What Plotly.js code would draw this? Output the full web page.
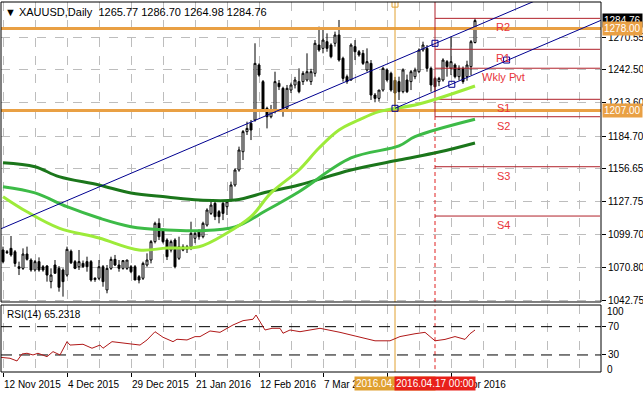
<!DOCTYPE html>
<html><head><meta charset="utf-8">
<script src="https://cdn.plot.ly/plotly-3.0.1.min.js"></script>
<style>html,body{margin:0;padding:0;background:#fff}#chart{width:643px;height:397px}</style>
</head><body><div id="chart"></div>
<script>
// ---- data (bar index 0 = 12 Nov 2015, daily bars) ----
const openP = [1086.1,1084.6,1087.5,1084.6,1071.6,1070.2,1082.6,1077.4,1068.8,1076.0,
1071.6,1072.2,1058.7,1073.1,1070.2,1068.8,1064.4,1085.0,1076.0,1071.6,
1074.5,1076.0,1076.0,1060.5,1061.6,1071.6,1051.5,1070.2,1078.0,1073.1,
1070.2,1070.2,1071.6,1071.6,1063.0,1061.6,1073.1,1077.4,1093.3,1109.2,
1103.4,1094.7,1086.0,1094.7,1078.9,1088.9,1086.7,1088.9,1096.2,1101.9,
1097.6,1107.7,1117.8,1126.5,1119.3,1126.5,1123.6,1129.4,1142.4,1155.4,
1171.2,1188.6,1195.8,1198.7,1246.3,1231.9,1208.8,1201.5,1205.9,1230.4,
1226.1,1208.8,1224.6,1229.0,1231.9,1231.9,1233.3,1231.9,1239.1,1263.6,
1260.7,1266.5,1263.6,1265.1,1272.3,1252.1,1236.2,1233.3,1262.2,1257.8,
1256.4,1242.0,1247.7,1220.3,1217.4,1224.6,1242.0,1239.1,1233.0,1231.9,
1223.2,1233.3,1231.9,1236.2,1240.5,1259.3,1260.7,1243.4,1234.7,1231.9,
1233.3,1249.2,1243.4,1246.3,1236.2,1243.4,1236.2,1244.9,1265.77];
const highP = [1089.0,1086.1,1098.2,1086.1,1076.0,1087.5,1089.0,1078.9,1077.4,1079.7,
1073.1,1073.1,1070.2,1077.4,1072.2,1070.2,1089.0,1086.5,1077.4,1086.1,
1077.0,1080.3,1077.4,1062.5,1077.4,1073.1,1073.1,1080.3,1081.8,1077.4,
1077.4,1077.4,1073.1,1073.1,1064.4,1076.0,1083.2,1094.7,1110.6,1113.5,
1104.8,1096.2,1095.0,1096.2,1097.6,1091.0,1090.5,1110.6,1103.0,1104.0,
1110.6,1122.2,1127.9,1127.9,1120.7,1127.9,1129.4,1145.3,1156.8,1175.6,
1190.0,1197.2,1198.7,1265.1,1247.7,1233.3,1210.2,1211.7,1240.5,1233.3,
1227.5,1229.0,1231.0,1236.0,1243.4,1241.0,1256.4,1243.0,1267.9,1279.5,
1276.6,1273.7,1265.1,1275.2,1285.3,1253.5,1238.0,1265.1,1267.9,1259.3,
1259.3,1260.7,1250.6,1222.0,1224.6,1244.9,1243.4,1240.5,1236.0,1236.2,
1243.4,1238.0,1242.0,1244.0,1260.7,1266.5,1263.6,1244.9,1236.2,1236.0,
1252.1,1250.6,1270.8,1247.7,1246.0,1245.0,1250.0,1267.9,1286.70];
const lowP = [1074.5,1082.6,1080.3,1071.6,1064.4,1068.8,1076.9,1067.3,1067.3,1067.3,
1067.3,1058.7,1052.9,1065.9,1050.0,1045.7,1063.0,1074.0,1069.5,1068.8,
1070.5,1067.3,1058.7,1058.5,1060.1,1054.3,1048.6,1068.8,1072.2,1067.3,
1069.0,1068.8,1066.0,1060.1,1057.2,1060.1,1071.6,1074.5,1091.8,1094.7,
1091.8,1077.4,1084.0,1070.2,1077.4,1085.0,1083.5,1086.0,1092.0,1095.0,
1096.2,1106.3,1116.4,1112.0,1109.2,1112.0,1116.4,1127.9,1140.9,1153.9,
1164.0,1185.7,1181.3,1197.2,1236.2,1205.9,1191.4,1200.1,1204.4,1224.6,
1201.5,1207.3,1222.0,1226.0,1221.8,1229.0,1231.9,1229.0,1236.2,1257.8,
1256.4,1257.8,1252.1,1262.2,1249.2,1231.9,1230.0,1232.7,1250.6,1253.5,
1246.3,1240.5,1216.0,1214.0,1214.6,1223.2,1231.9,1223.2,1210.0,1216.0,
1221.8,1222.0,1224.6,1234.0,1239.1,1257.8,1240.5,1223.2,1223.2,1228.0,
1231.9,1236.2,1237.6,1234.7,1233.0,1230.0,1232.7,1237.6,1264.98];
const closeP = [1076.0,1083.8,1081.8,1074.5,1070.2,1082.6,1078.0,1068.8,1076.0,1068.8,
1068.8,1064.4,1064.4,1065.9,1053.8,1058.7,1086.7,1075.0,1070.2,1076.0,
1071.6,1071.6,1060.1,1061.6,1071.6,1058.7,1070.2,1078.0,1073.1,1070.2,
1076.9,1077.4,1067.3,1060.1,1060.1,1074.5,1077.4,1093.3,1109.2,1097.6,
1093.3,1080.3,1093.3,1071.6,1088.9,1086.0,1088.9,1100.5,1100.5,1097.6,
1109.2,1120.7,1125.0,1115.0,1115.0,1117.8,1127.9,1142.4,1155.4,1172.7,
1188.6,1191.4,1190.0,1247.7,1237.6,1207.3,1201.5,1207.3,1231.9,1227.5,
1208.8,1226.1,1229.0,1233.3,1223.2,1239.1,1240.5,1240.5,1265.1,1259.3,
1267.9,1260.7,1253.5,1272.3,1250.6,1234.7,1231.9,1263.6,1257.8,1255.0,
1247.7,1249.2,1220.3,1217.4,1224.6,1243.4,1233.3,1224.6,1222.0,1223.2,
1242.0,1223.2,1240.5,1242.0,1259.3,1263.6,1243.4,1229.0,1227.5,1234.7,
1250.6,1244.9,1249.2,1236.2,1243.4,1231.9,1246.3,1266.5,1284.76];

// moving averages (bar index, price)
const maSlowIdx = [0,8,14,24,32,41,49,58,66,74,87,99,109,118];
const maSlowVal = [1161.7,1158.2,1149.6,1142.4,1135.4,1132.0,1129.4,1129.4,1136.3,1142.4,1155.4,1164.0,1170.9,1178.8];
const maMidIdx  = [0,8,16,24,32,41,49,58,66,74,87,99,103,118];
const maMidVal  = [1140.9,1135.5,1123.6,1113.8,1106.3,1103.4,1102.8,1106.0,1120.7,1136.6,1165.8,1176.2,1184.2,1199.3];
const maFastIdx = [0,6,14,24,34,41,49,56,62,67,74,79,84,89,94,104,118];
const maFastVal = [1132.3,1119.2,1105.1,1096.5,1086.1,1087.8,1088.9,1100.8,1114.9,1135.5,1155.4,1174.4,1190.0,1198.7,1205.9,1212.5,1228.1];

// RSI(14)
const rsiIdx = [-0.75,1.75,3.5,4.75,6,7.5,8.75,11,12.5,14.25,16,16.75,20,22.25,24.25,25,27.25,29.25,31.75,34.25,36,38,40,42.5,43.5,46,48,49.25,51.75,54.25,57.5,60,62.5,63.25,65.5,67.25,69.25,70,71.75,74.25,76.75,79.25,84.25,89.25,93,96.75,99.25,103,105.5,108,110.5,113,115.5,116.75,118];
const rsiVal = [26.7,25.3,21.5,31.4,32.4,30,32.4,27.6,34.7,30,48.8,44,45.1,39.5,44,39.5,48.8,47.4,46.5,44,51.2,62.9,55,48.8,52.2,51.2,55.9,55.9,63.9,62,72.4,78.5,80.5,86.5,65.3,67.7,67.7,60.7,65.3,62.9,65.3,67.7,62,55,50,50,56,60,62,50,52,56,52,60,65.2318];

// drawn objects
const hLevels = [1278.00, 1207.00];
const vLineOrange = 98, vLineRed = 108;
const pivotNames = ['R2','R1','Wkly Pvt','S1','S2','S3','S4'];
const pivotVals = [1286.7,1259.9,1243.5,1216.6,1201.5,1158.2,1115.5];
const chUpIdx = [-0.75,108,149.5], chUpVal = [1104.1,1265.1,1326.2];
const chLoIdx = [98,149.5], chLoVal = [1208.8,1285.0];
const anchorIdx = [108,98,112.2,125.9], anchorVal = [1265.1,1208.8,1229.6,1250.6];

// axis labels
const priceTicks = [1270.55,1242.50,1213.60,1184.70,1156.65,1127.75,1099.70,1070.80,1042.75];
const dateTickIdx = [0,16,32,48,64,80,96,112];
const dateTickText = ['12 Nov 2015','4 Dec 2015','29 Dec 2015','21 Jan 2016','12 Feb 2016','7 Mar 2016','','21 Apr 2016'];
const gridIdx = [0,8,16,24,32,40,48,56,64,72,80,88,96,104,112,120,128,136,144];

const bars = openP.map((_, i) => i);
const X0 = -0.5, X1 = 149.5;
const YMIN = 1041.06, YMAX = 1300.86;
const ORANGE = '#E9A044', NAVY = '#000090', PIVRED = '#B0202A', LBLRED = '#E8343A';

const traces = [];
hLevels.forEach(v => traces.push({type:'scatter', mode:'lines', x:[X0,X1], y:[v,v], line:{color:ORANGE, width:3}, hoverinfo:'skip'}));
traces.push({type:'scatter', mode:'lines', x:[vLineOrange,vLineOrange], y:[YMIN,YMAX], line:{color:'#E0A030', width:1}, hoverinfo:'skip'});
traces.push({type:'scatter', mode:'lines', x:[vLineOrange,vLineOrange], y:[0,100], yaxis:'y2', line:{color:'#E0A030', width:1}, hoverinfo:'skip'});
traces.push({type:'scatter', mode:'lines', x:[vLineRed,vLineRed], y:[pivotVals[4],YMAX], line:{color:PIVRED, width:1}, hoverinfo:'skip'});
traces.push({type:'scatter', mode:'lines', x:[vLineRed,vLineRed], y:[YMIN,pivotVals[4]], line:{color:'#E02020', width:1, dash:'4px,3px'}, hoverinfo:'skip'});
traces.push({type:'scatter', mode:'lines', x:[vLineRed,vLineRed], y:[0,100], yaxis:'y2', line:{color:'#E02020', width:1, dash:'4px,3px'}, hoverinfo:'skip'});
pivotVals.forEach(v => traces.push({type:'scatter', mode:'lines', x:[vLineRed,149.25], y:[v,v], line:{color:PIVRED, width:1}, hoverinfo:'skip'}));
traces.push({type:'scatter', mode:'lines', x:maSlowIdx, y:maSlowVal, line:{color:'#1B761B', width:3, shape:'spline'}, hoverinfo:'skip'});
traces.push({type:'scatter', mode:'lines', x:maMidIdx, y:maMidVal, line:{color:'#3DBB47', width:3, shape:'spline'}, hoverinfo:'skip'});
traces.push({type:'scatter', mode:'lines', x:maFastIdx, y:maFastVal, line:{color:'#9DEB3A', width:3, shape:'spline'}, hoverinfo:'skip'});
traces.push({type:'scatter', mode:'lines', x:chUpIdx, y:chUpVal, line:{color:NAVY, width:1}, hoverinfo:'skip'});
traces.push({type:'scatter', mode:'lines', x:chLoIdx, y:chLoVal, line:{color:NAVY, width:1}, hoverinfo:'skip'});
traces.push({type:'candlestick', x:bars, open:openP, high:highP, low:lowP, close:closeP,
  increasing:{line:{color:'#000', width:1}, fillcolor:'#fff'},
  decreasing:{line:{color:'#000', width:1}, fillcolor:'#000'},
  whiskerwidth:0, hoverinfo:'skip'});
traces.push({type:'scatter', mode:'markers', x:anchorIdx, y:anchorVal, marker:{symbol:'square-open', size:6, color:NAVY, line:{width:1}}, hoverinfo:'skip'});
traces.push({type:'scatter', mode:'markers', x:[vLineOrange], y:[1299.0], marker:{symbol:'square-open', size:6, color:'#E0A030', line:{width:1}}, hoverinfo:'skip'});
traces.push({type:'scatter', mode:'lines', x:[X0,X1], y:[70,70], yaxis:'y2', line:{color:'#000', width:1, dash:'11px,7px'}, hoverinfo:'skip'});
traces.push({type:'scatter', mode:'lines', x:[X0,X1], y:[30,30], yaxis:'y2', line:{color:'#000', width:1, dash:'11px,7px'}, hoverinfo:'skip'});
traces.push({type:'scatter', mode:'lines', x:rsiIdx, y:rsiVal, yaxis:'y2', line:{color:'#B01818', width:1}, hoverinfo:'skip'});

const ann = [];
const F = 'Liberation Sans, Arial, sans-serif';
ann.push({xref:'paper', yref:'paper', x:0.004, y:1, xanchor:'left', yanchor:'top', yshift:-2, showarrow:false,
  text:'\u25BC XAUUSD,Daily  1265.77 1286.70 1264.98 1284.76', font:{family:F, size:11, color:'#000'}});
ann.push({xref:'paper', yref:'paper', x:0.006, y:0.181, xanchor:'left', yanchor:'top', yshift:-2, showarrow:false,
  text:'RSI(14) 65.2318', font:{family:F, size:10, color:'#000'}});
dateTickIdx.forEach((d,k) => { if (dateTickText[k]) ann.push({xref:'x', yref:'paper', x:d, y:0, xanchor:'left', yanchor:'top', yshift:-5, xshift:-1, showarrow:false,
  text:dateTickText[k], font:{family:F, size:10, color:'#000'}}); });
ann.push({xref:'x', yref:'paper', x:vLineOrange, y:0, xanchor:'center', yanchor:'top', yshift:-4, showarrow:false,
  text:'2016.04.01 00:00', bgcolor:'#E0A030', font:{family:F, size:10, color:'#fff'}, borderpad:1});
ann.push({xref:'x', yref:'paper', x:vLineRed, y:0, xanchor:'center', yanchor:'top', yshift:-4, showarrow:false,
  text:'2016.04.17 00:00', bgcolor:'#E8201A', font:{family:F, size:10, color:'#fff'}, borderpad:1});
[[1284.76,'#000'],[1278.00,ORANGE],[1207.00,ORANGE]].forEach(p => ann.push({xref:'paper', yref:'y', x:1, y:p[0], xanchor:'left', yanchor:'middle', xshift:1,
  showarrow:false, text:p[0].toFixed(2), bgcolor:p[1], font:{family:F, size:10, color:'#fff'}, borderpad:1}));
pivotVals.forEach((v,k) => ann.push({xref:'x', yref:'y', x:125, y:v, xanchor:'center', yanchor:'top', yshift:-1, showarrow:false,
  text:pivotNames[k], font:{family:F, size:11, color:LBLRED}}));
[[100,91],[0,10]].forEach(p => ann.push({xref:'paper', yref:'y2', x:1, y:p[1], xanchor:'left', yanchor:'middle', xshift:4, showarrow:false,
  text:String(p[0]), font:{family:F, size:10, color:'#000'}}));

const layout = {
  width:643, height:397, margin:{l:1, r:42, t:2, b:25}, paper_bgcolor:'#fff', plot_bgcolor:'#fff',
  showlegend:false, dragmode:false, hovermode:false,
  font:{family:F, size:10, color:'#000'},
  xaxis:{range:[X0,X1], anchor:'y2', showgrid:false, zeroline:false, tickmode:'array', tickvals:dateTickIdx, ticktext:dateTickIdx.map(()=>''),
    ticks:'outside', ticklen:4, tickcolor:'#000', rangeslider:{visible:false}, fixedrange:true,
    minor:{tickmode:'array', tickvals:gridIdx, showgrid:true, gridcolor:'#bdbdbd', griddash:'dash', gridwidth:1, ticks:''}},
  yaxis:{domain:[0.1892,1], range:[YMIN,YMAX], side:'right', tickmode:'array', tickvals:priceTicks, ticktext:priceTicks.map(v=>v.toFixed(2)),
    ticks:'outside', ticklen:4, tickcolor:'#000', showgrid:true, gridcolor:'#bdbdbd', griddash:'dash', zeroline:false, fixedrange:true, showline:false},
  yaxis2:{domain:[0,0.181], range:[5.9,100.6], side:'right', tickmode:'array', tickvals:[70,30], ticktext:['70','30'],
    ticks:'outside', ticklen:4, tickcolor:'#000', showgrid:false, zeroline:false, fixedrange:true, showline:false},
  shapes:[
    {type:'rect', xref:'paper', yref:'paper', x0:0, x1:1, y0:0.1892, y1:1, line:{color:'#000', width:1}},
    {type:'rect', xref:'paper', yref:'paper', x0:0, x1:1, y0:0, y1:0.181, line:{color:'#000', width:1}}
  ],
  annotations:ann
};
Plotly.newPlot('chart', traces, layout, {staticPlot:true, displayModeBar:false});
</script></body></html>
